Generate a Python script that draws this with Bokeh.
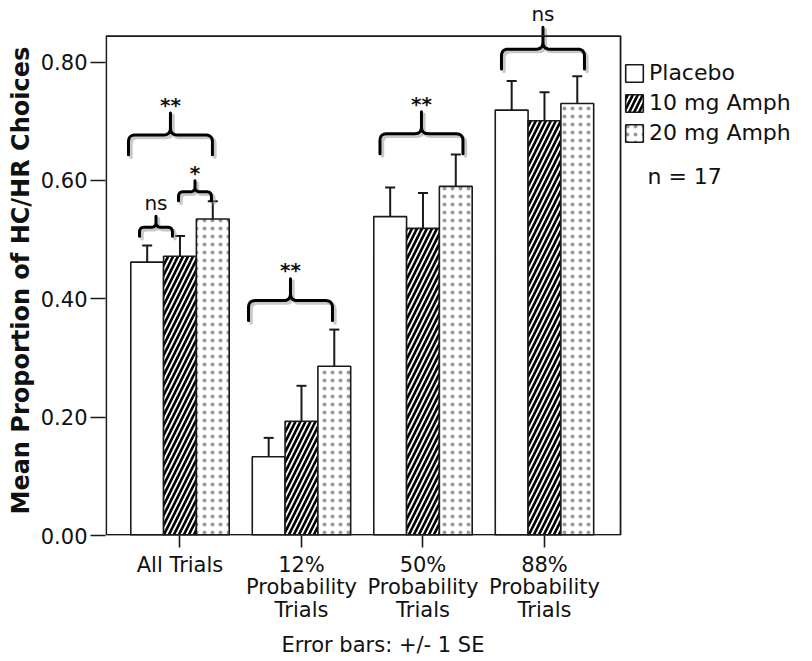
import numpy as np
from bokeh.plotting import figure
from bokeh.models import (ColumnDataSource, Range1d, FixedTicker, NumeralTickFormatter,
                          Whisker, TeeHead, BoxAnnotation, Legend, LegendItem, Title)
from bokeh.core.properties import value
from bokeh.embed import file_html
from bokeh.resources import INLINE

# ---------------- data ----------------
categories = ["All Trials", "12%\nProbability\nTrials", "50%\nProbability\nTrials", "88%\nProbability\nTrials"]
series = ["Placebo", "10 mg Amph", "20 mg Amph"]
placebo = [0.462, 0.133, 0.539, 0.719]
amph10 = [0.472, 0.193, 0.519, 0.701]
amph20 = [0.535, 0.286, 0.590, 0.730]
se_placebo = [0.028, 0.032, 0.049, 0.049]
se_amph10 = [0.034, 0.060, 0.060, 0.048]
se_amph20 = [0.030, 0.062, 0.054, 0.046]
y_ticks = [0.0, 0.2, 0.4, 0.6, 0.8]
n_text = "n = 17"
x_title = "Error bars: +/- 1 SE"
y_title = "Mean Proportion of HC/HR Choices"

# significance braces (x extents in category units, y level of the brace)
brace_left = [-0.424, -0.333, -0.012, 0.564, 1.646, 2.646]
brace_right = [0.267, -0.062, 0.259, 1.255, 2.329, 3.329]
brace_y = [0.677, 0.521, 0.581, 0.397, 0.679, 0.822]
brace_label = ["**", "ns", "*", "**", "**", "ns"]

# ---------------- layout ----------------
FONT = "DejaVu Sans"
PX_X = 121.5   # px per category unit
PX_Y = 595.0   # px per y unit
W, H = 812, 661
ML, MB = 105, 123
frame_w = W - ML
frame_h = H - MB
x0 = -0.613
box_right = 3.626
box_top = 0.844

p = figure(width=W, height=H, output_backend="svg", toolbar_location=None,
           x_range=Range1d(x0, x0 + frame_w / PX_X),
           y_range=Range1d(0, frame_h / PX_Y),
           min_border_left=ML, min_border_bottom=MB, min_border_top=0, min_border_right=0,
           background_fill_color="white", border_fill_color="white")
p.outline_line_color = None
p.xgrid.visible = False
p.ygrid.visible = False

width = 0.27
offsets = [-width, 0.0, width]
vals = [placebo, amph10, amph20]
ses = [se_placebo, se_amph10, se_amph20]
styles = [
    dict(fill_color="white"),
    dict(fill_color="black", hatch_pattern="/", hatch_color="white", hatch_scale=10, hatch_weight=1.8),
    dict(fill_color="white", hatch_pattern=".", hatch_color="#9a9a9a", hatch_scale=8, hatch_weight=1.2),
]
idx = np.arange(len(categories))
renderers = []
for k in range(3):
    xs = idx + offsets[k]
    src = ColumnDataSource(dict(x=xs, top=vals[k],
                                upper=np.array(vals[k]) + np.array(ses[k]),
                                lower=np.array(vals[k]) - np.array(ses[k])))
    r = p.vbar(x="x", top="top", bottom=0, width=width, source=src,
               line_color="#1a1a1a", line_width=1.6, **styles[k])
    renderers.append(r)
    wk = Whisker(source=src, base="x", upper="upper", lower="lower", dimension="height",
                 line_color="#1a1a1a", line_width=2,
                 upper_head=TeeHead(size=10, line_color="#1a1a1a", line_width=2),
                 lower_head=TeeHead(size=10, line_color="#1a1a1a", line_width=2))
    p.add_layout(wk)

# plot box
p.add_layout(BoxAnnotation(left=x0 + 0.006, right=box_right, bottom=0.001, top=box_top,
                           fill_alpha=0, line_color="#1a1a1a", line_alpha=1.0, line_width=1.8,
                           level="overlay"))

# braces
def quad(p0, c, p1, n=8):
    t = np.linspace(0, 1, n)
    qx = (1 - t) ** 2 * p0[0] + 2 * (1 - t) * t * c[0] + t ** 2 * p1[0]
    qy = (1 - t) ** 2 * p0[1] + 2 * (1 - t) * t * c[1] + t ** 2 * p1[1]
    return list(qx), list(qy)

bx, by, sx, sy, lx, ly = [], [], [], [], [], []
for xl, xr, y in zip(brace_left, brace_right, brace_y):
    big = (xr - xl) > 0.45
    drop = (20 if big else 9) / PX_Y
    peak = (22 if big else 11) / PX_Y
    rpx = 7 if big else 5
    rx, ry = rpx / PX_X, rpx / PX_Y
    xm = (xl + xr) / 2
    X, Y = [xl], [y - drop]
    for a, b, c in [((xl, y - ry), (xl, y), (xl + rx, y)),
                    ((xm - rx, y), (xm, y), (xm, y + ry))]:
        qx, qy = quad(a, b, c)
        X += qx; Y += qy
    X += [xm]; Y += [y + peak]
    for a, b, c in [((xm, y + ry), (xm, y), (xm + rx, y)),
                    ((xr - rx, y), (xr, y), (xr, y - ry))]:
        qx, qy = quad(a, b, c)
        X += qx; Y += qy
    X += [xr]; Y += [y - drop]
    bx.append(X); by.append(Y)
    sx.append([v + 2.5 / PX_X for v in X]); sy.append([v - 2.5 / PX_Y for v in Y])
    lx.append(xm); ly.append(y + peak + 0.022)

p.multi_line(sx, sy, line_color="#9a9a9a", line_alpha=0.55, line_width=3.5,
             line_cap="round", line_join="round")
p.multi_line(bx, by, line_color="black", line_width=3, line_cap="round", line_join="round")

lab_src = ColumnDataSource(dict(x=lx, y=[v - (0.008 if "*" in t else 0) for v, t in zip(ly, brace_label)],
                                text=brace_label,
                                style=["bold" if "*" in t else "normal" for t in brace_label]))
p.text(x="x", y="y", text="text", source=lab_src, text_align="center", text_baseline="middle",
       text_font=value(FONT), text_font_size="20px", text_font_style="style", text_color="#111")

# n = 17
p.text(x=[x0 + (647 - ML) / PX_X], y=[(538 - 177) / PX_Y], text=[n_text], text_align="left",
       text_baseline="middle", text_font=value(FONT), text_font_size="22px", text_color="#111")

# legend
legend = Legend(items=[LegendItem(label=s, renderers=[r]) for s, r in zip(series, renderers)],
                location=(623 - ML, 390), orientation="vertical",
                glyph_width=22, glyph_height=22, label_height=22, spacing=5,
                padding=0, margin=0, border_line_color=None, background_fill_alpha=0,
                label_text_font=FONT, label_text_font_size="22px", label_standoff=4,
                label_text_color="#111")
p.add_layout(legend)

# axis titles as side-panel titles (placed along the drawn box, as in the reference)
p.add_layout(Title(text=y_title, align="left", offset=21, standoff=6,
                   text_font=FONT, text_font_size="24px", text_font_style="bold",
                   text_color="#111"), "left")
p.add_layout(Title(text=x_title, align="left", offset=176, standoff=10,
                   text_font=FONT, text_font_size="21px", text_font_style="normal",
                   text_color="#111"), "below")

# axes
p.yaxis.ticker = FixedTicker(ticks=y_ticks)
p.yaxis.formatter = NumeralTickFormatter(format="0.00")
p.yaxis.axis_line_color = None
p.yaxis.major_tick_out = 15
p.yaxis.major_tick_in = 0
p.yaxis.minor_tick_line_color = None
p.yaxis.major_tick_line_width = 1.6
p.yaxis.major_tick_line_color = "#1a1a1a"
p.yaxis.major_label_standoff = 3
p.yaxis.major_label_text_font = FONT
p.yaxis.major_label_text_font_size = "21px"
p.yaxis.major_label_text_color = "#111"

p.xaxis.ticker = FixedTicker(ticks=list(range(len(categories))))
p.xaxis.major_label_overrides = {i: c for i, c in enumerate(categories)}
p.xaxis.axis_line_color = None
p.xaxis.major_tick_out = 12
p.xaxis.major_tick_in = 0
p.xaxis.minor_tick_line_color = None
p.xaxis.major_tick_line_width = 1.6
p.xaxis.major_tick_line_color = "#1a1a1a"
p.xaxis.major_label_standoff = 5
p.xaxis.major_label_text_font = FONT
p.xaxis.major_label_text_font_size = "21px"
p.xaxis.major_label_text_color = "#111"
p.xaxis.major_label_text_line_height = 0.95

open("out.html", "w").write(file_html(p, INLINE))
